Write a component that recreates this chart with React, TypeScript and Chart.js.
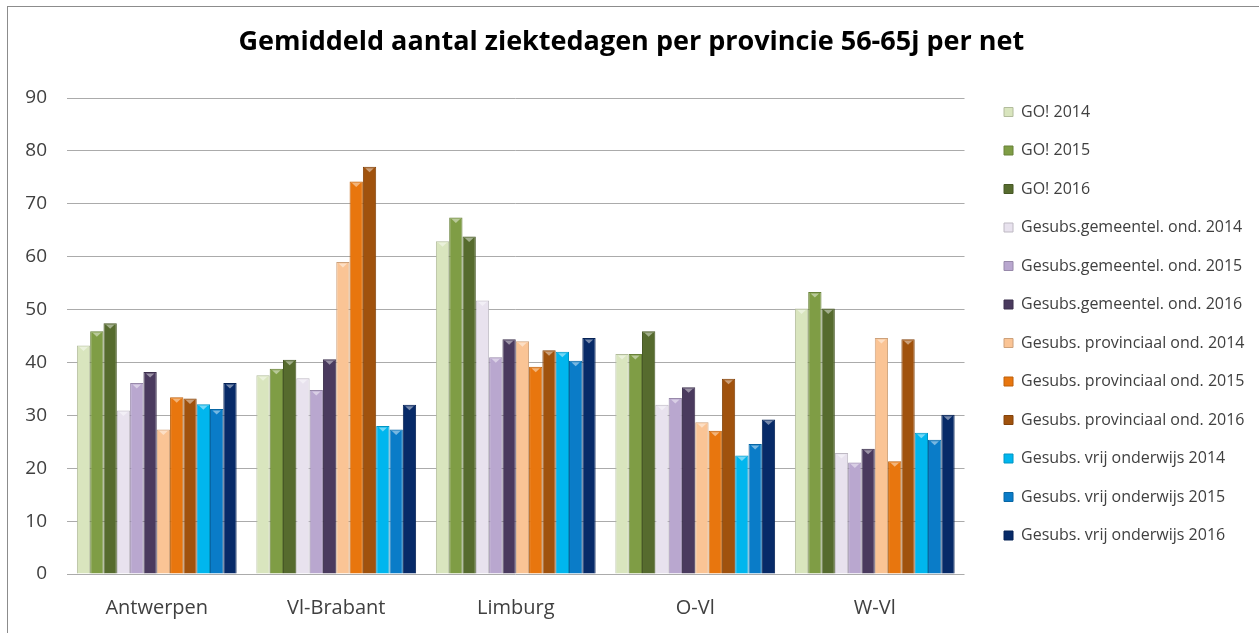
import React, { useEffect, useRef } from "react";
import { Chart, registerables } from "chart.js";

Chart.register(...registerables);

const categories = ["Antwerpen", "Vl-Brabant", "Limburg", "O-Vl", "W-Vl"];

const seriesLabels = [
  "GO! 2014",
  "GO! 2015",
  "GO! 2016",
  "Gesubs.gemeentel. ond. 2014",
  "Gesubs.gemeentel. ond. 2015",
  "Gesubs.gemeentel. ond. 2016",
  "Gesubs. provinciaal ond. 2014",
  "Gesubs. provinciaal ond. 2015",
  "Gesubs. provinciaal ond. 2016",
  "Gesubs. vrij onderwijs 2014",
  "Gesubs. vrij onderwijs 2015",
  "Gesubs. vrij onderwijs 2016",
];

const go2014 = [43.2, 37.6, 62.9, 41.6, 50.2];
const go2015 = [45.9, 38.8, 67.4, 41.6, 53.3];
const go2016 = [47.4, 40.5, 63.8, 45.9, 50.2];
const gem2014 = [30.9, 37.0, 51.7, 32.0, 22.9];
const gem2015 = [36.1, 34.8, 41.0, 33.3, 21.1];
const gem2016 = [38.2, 40.6, 44.4, 35.3, 23.7];
const prov2014 = [27.3, 59.0, 44.0, 28.7, 44.6];
const prov2015 = [33.4, 74.2, 39.2, 27.1, 21.3];
const prov2016 = [33.2, 77.0, 42.3, 36.9, 44.4];
const vrij2014 = [32.1, 28.0, 42.0, 22.4, 26.7];
const vrij2015 = [31.2, 27.3, 40.3, 24.6, 25.4];
const vrij2016 = [36.1, 32.0, 44.6, 29.2, 30.1];

const seriesValues = [
  go2014, go2015, go2016,
  gem2014, gem2015, gem2016,
  prov2014, prov2015, prov2016,
  vrij2014, vrij2015, vrij2016,
];

const seriesColors = [
  "#d9e5be", "#7f9d45", "#566b2e",
  "#e8e2ee", "#b9a7cf", "#4a3a5e",
  "#fac495", "#e8760e", "#a0520d",
  "#00b6ee", "#0a7cc8", "#072a68",
];

const yTicks = [0, 10, 20, 30, 40, 50, 60, 70, 80, 90];

function shade(hex: string, f: number): string {
  const n = parseInt(hex.slice(1), 16);
  let r = (n >> 16) & 255, g = (n >> 8) & 255, b = n & 255;
  if (f >= 0) {
    r = Math.round(r + (255 - r) * f);
    g = Math.round(g + (255 - g) * f);
    b = Math.round(b + (255 - b) * f);
  } else {
    r = Math.round(r * (1 + f));
    g = Math.round(g * (1 + f));
    b = Math.round(b * (1 + f));
  }
  return `rgb(${r},${g},${b})`;
}

const bevelPlugin = {
  id: "bevel",
  afterDatasetsDraw(chart: any) {
    const ctx = chart.ctx;
    ctx.save();
    chart.data.datasets.forEach((ds: any, di: number) => {
      const meta = chart.getDatasetMeta(di);
      if (meta.hidden) return;
      meta.data.forEach((el: any) => {
        const { x, y, width } = el.getProps(["x", "y", "width"], true);
        const hw = width * 0.32;
        ctx.beginPath();
        ctx.moveTo(x - hw, y + 1.5);
        ctx.lineTo(x + hw, y + 1.5);
        ctx.lineTo(x, y + 5.5);
        ctx.closePath();
        ctx.fillStyle = shade(seriesColors[di], 0.45);
        ctx.fill();
      });
    });
    ctx.restore();
  },
};

export default function App() {
  const ref = useRef<HTMLCanvasElement | null>(null);

  useEffect(() => {
    if (!ref.current) return;
    const chart = new Chart(ref.current, {
      type: "bar",
      data: {
        labels: categories,
        datasets: seriesLabels.map((label, i) => ({
          label,
          data: seriesValues[i],
          backgroundColor: seriesColors[i],
          borderColor: shade(seriesColors[i], -0.18),
          borderWidth: 1,
          barPercentage: 1,
          categoryPercentage: 0.89,
        })),
      },
      options: {
        responsive: false,
        animation: false,
        layout: { padding: { top: 7.5, bottom: 0, left: 0, right: 4.5 } },
        plugins: {
          title: {
            display: true,
            text: "Gemiddeld aantal ziektedagen per provincie 56-65j per net",
            color: "#000000",
            font: { family: "Open Sans", size: 27, weight: "bold", lineHeight: 1.2 },
            padding: { top: 12, bottom: 39.1 },
          },
          legend: {
            position: "right",
            align: "center",
            labels: {
              boxWidth: 9,
              boxHeight: 9,
              padding: 22.5,
              color: "#404040",
              font: { family: "Open Sans", size: 16 },
            },
          },
          tooltip: { enabled: false },
        },
        scales: {
          x: {
            afterFit: (s: any) => { s.height = 59; },
            grid: { display: false, drawTicks: false },
            border: { display: false },
            ticks: {
              color: "#404040",
              padding: 22,
              font: { family: "Open Sans", size: 20, lineHeight: 1.2 },
            },
          },
          y: {
            min: 0,
            max: 90,
            afterFit: (s: any) => { s.width = 59; },
            afterBuildTicks: (s: any) => { s.ticks = yTicks.map((v) => ({ value: v })); },
            grid: { color: "#ababab", lineWidth: 1, drawTicks: false },
            border: { display: false },
            ticks: {
              color: "#404040",
              padding: 20,
              font: { family: "Open Sans", size: 19 },
            },
          },
          yR: {
            position: "right",
            display: false,
            afterFit: (s: any) => { s.width = 17; },
            grid: { display: false, drawTicks: false },
            border: { display: false },
            ticks: { display: false },
          },
        },
      },
      plugins: [bevelPlugin],
    });
    return () => chart.destroy();
  }, []);

  return (
    <div
      style={{
        position: "fixed",
        left: 7,
        top: 6,
        width: 1252,
        height: 627,
        borderLeft: "1px solid #8c8c8c",
        borderTop: "1px solid #8c8c8c",
        boxSizing: "border-box",
        background: "#ffffff",
        overflow: "hidden",
      }}
    >
      <canvas ref={ref} width={1251} height={626} style={{ display: "block" }} />
    </div>
  );
}
